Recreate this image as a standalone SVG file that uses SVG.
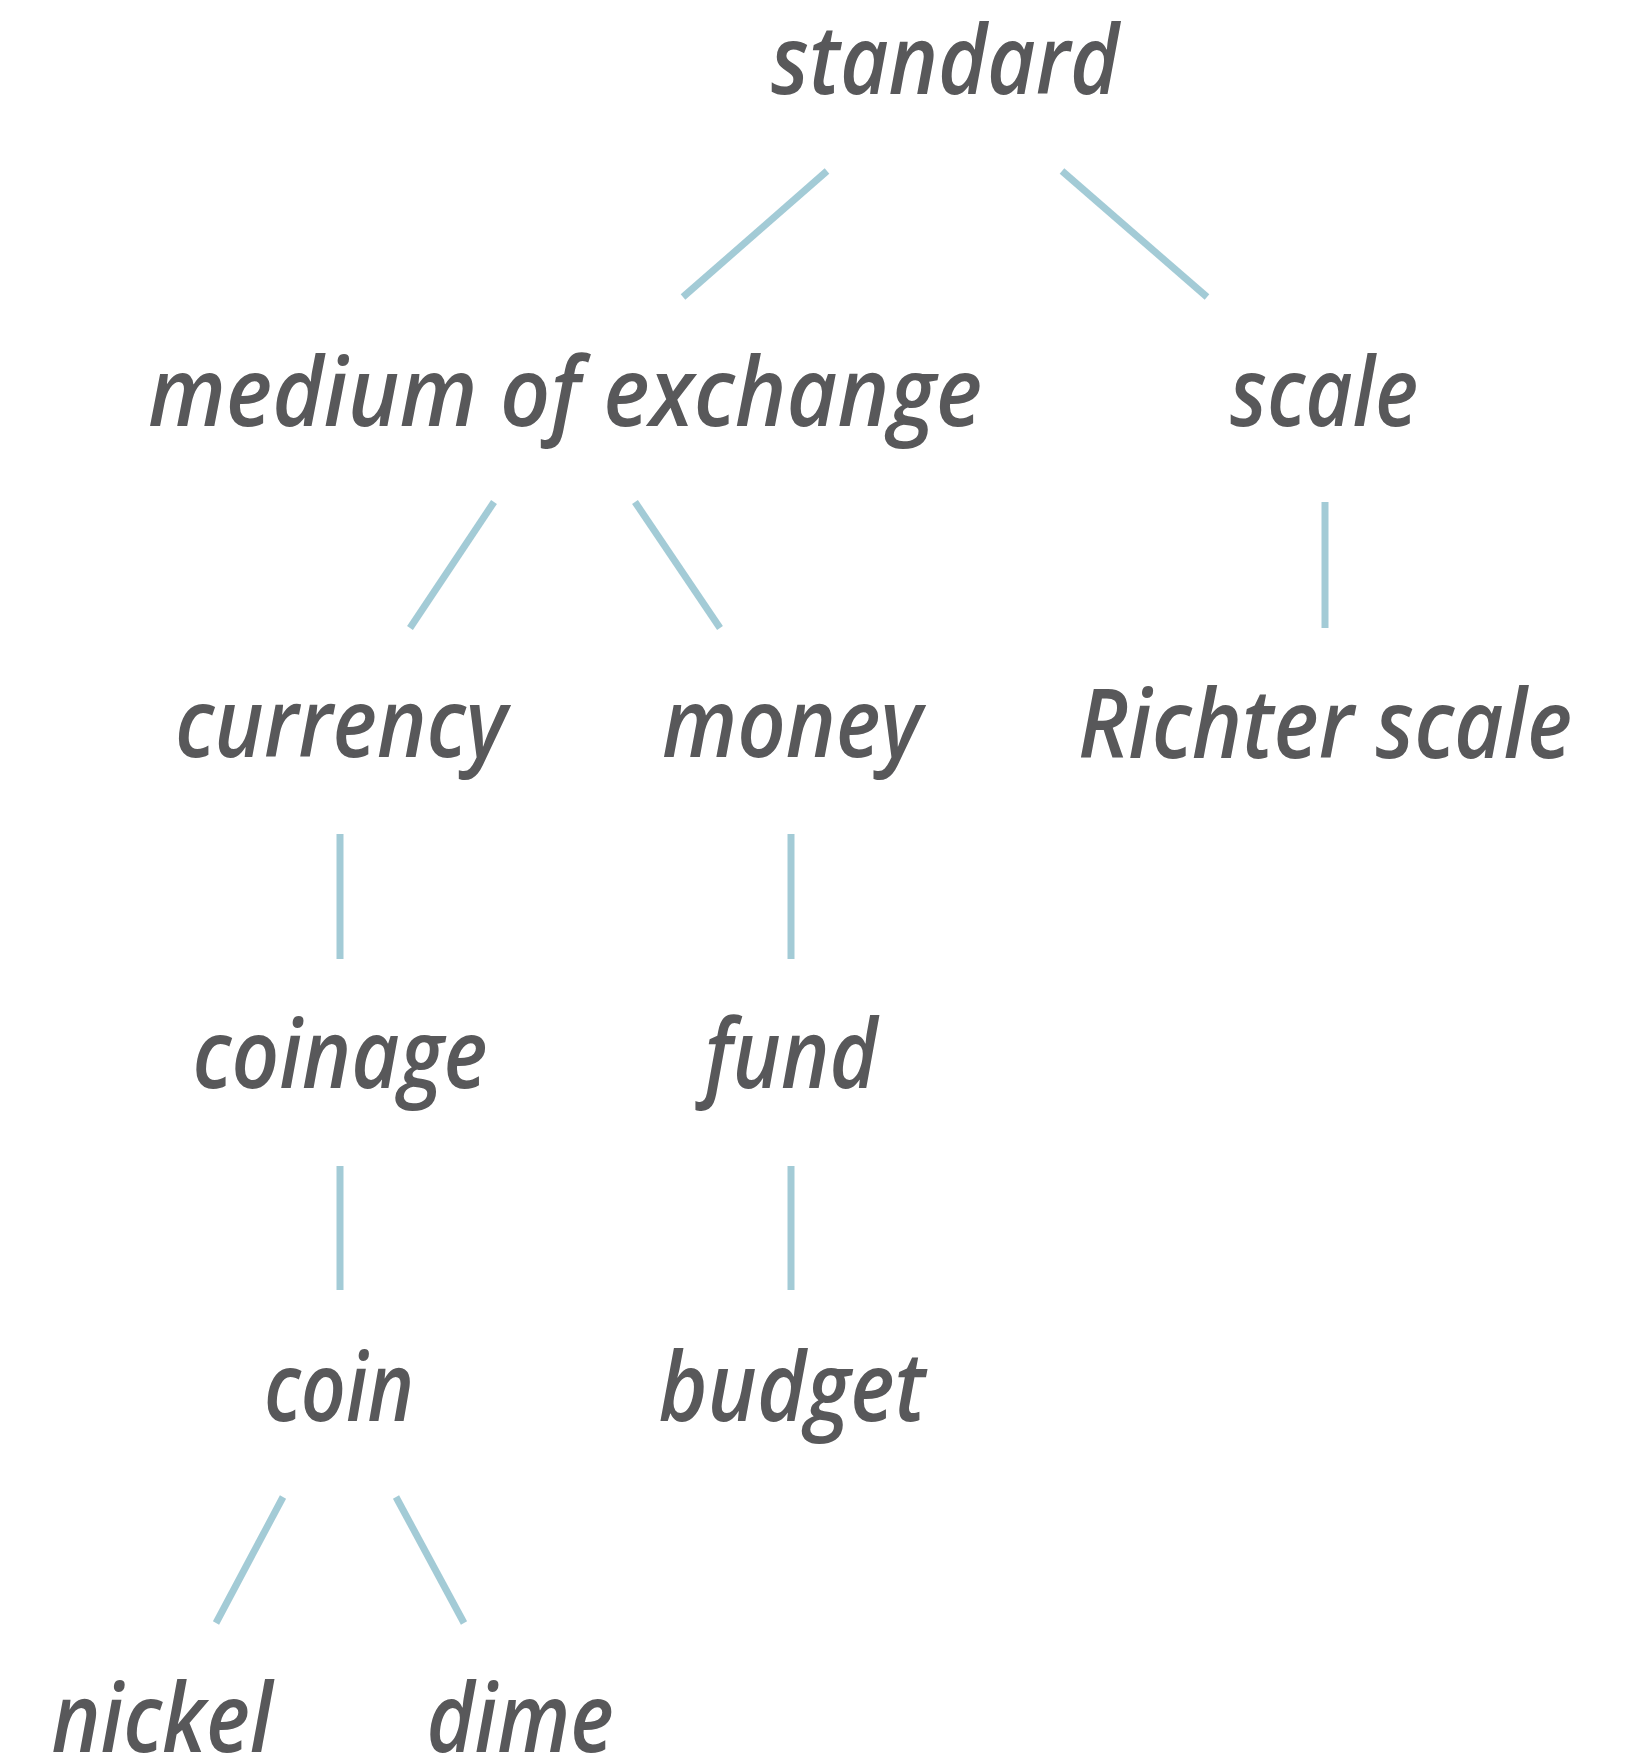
<svg xmlns="http://www.w3.org/2000/svg" width="1643" height="1759" viewBox="0 0 1643 1759">
<style>
.t{font-family:"Open Sans","Liberation Sans",sans-serif;font-style:italic;font-weight:600;font-size:96px;fill:#58585a;text-anchor:middle}
.c line{stroke:#a3cbd6;stroke-width:7;stroke-linecap:butt}
</style>
<rect width="1643" height="1759" fill="#fff"/>
<g id="connectors" class="c">
<line x1="827" y1="171" x2="683" y2="297"/>
<line x1="1062" y1="171" x2="1207" y2="297"/>
<line x1="494" y1="502" x2="410" y2="628"/>
<line x1="635" y1="502" x2="720" y2="628"/>
<line x1="1325" y1="502" x2="1325" y2="628"/>
<line x1="340" y1="834" x2="340" y2="959"/>
<line x1="791" y1="834" x2="791" y2="959"/>
<line x1="340" y1="1166" x2="340" y2="1290"/>
<line x1="791" y1="1166" x2="791" y2="1290"/>
<line x1="283" y1="1497" x2="216" y2="1623"/>
<line x1="396" y1="1497" x2="464" y2="1623"/>
</g>
<g id="standard"><text class="t" x="945" y="94" textLength="348" lengthAdjust="spacingAndGlyphs">standard</text></g>
<g id="medium_of_exchange"><text class="t" x="565" y="426" textLength="834" lengthAdjust="spacingAndGlyphs">medium of exchange</text></g>
<g id="scale"><text class="t" x="1324" y="426" textLength="188" lengthAdjust="spacingAndGlyphs">scale</text></g>
<g id="currency"><text class="t" x="341" y="757" textLength="332" lengthAdjust="spacingAndGlyphs">currency</text></g>
<g id="money"><text class="t" x="792" y="757" textLength="260" lengthAdjust="spacingAndGlyphs">money</text></g>
<g id="richter_scale"><text class="t" x="1325" y="758" textLength="494" lengthAdjust="spacingAndGlyphs">Richter scale</text></g>
<g id="coinage"><text class="t" x="340" y="1088" textLength="295" lengthAdjust="spacingAndGlyphs">coinage</text></g>
<g id="fund"><text class="t" x="791" y="1088" textLength="173" lengthAdjust="spacingAndGlyphs">fund</text></g>
<g id="coin"><text class="t" x="339" y="1421" textLength="150" lengthAdjust="spacingAndGlyphs">coin</text></g>
<g id="budget"><text class="t" x="792" y="1421" textLength="267" lengthAdjust="spacingAndGlyphs">budget</text></g>
<g id="nickel"><text class="t" x="162" y="1752" textLength="221" lengthAdjust="spacingAndGlyphs">nickel</text></g>
<g id="dime"><text class="t" x="520" y="1752" textLength="187" lengthAdjust="spacingAndGlyphs">dime</text></g>
</svg>
